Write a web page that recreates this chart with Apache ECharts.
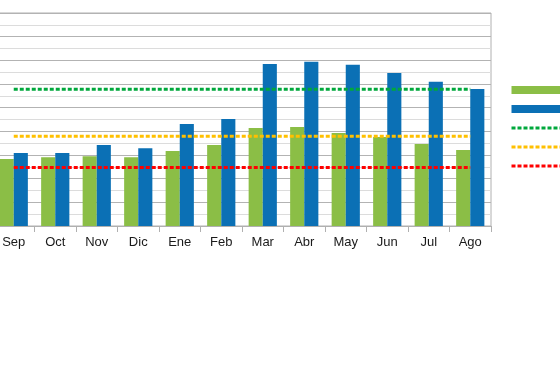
<!DOCTYPE html>
<html><head><meta charset="utf-8">
<script src="https://cdn.jsdelivr.net/npm/echarts@6/dist/echarts.min.js"></script>
<style>html,body{margin:0;padding:0;background:#fff;overflow:hidden}#c{width:567px;height:369px;margin-left:-7px}</style>
</head><body><div id="c"></div>
<script>
const categories = ['Sep','Oct','Nov','Dic','Ene','Feb','Mar','Abr','May','Jun','Jul','Ago'];
const seriesA = [2.83,2.91,2.95,2.91,3.17,3.42,4.14,4.18,3.93,3.76,3.46,3.21];
const seriesB = [3.08,3.08,3.42,3.29,4.31,4.52,6.85,6.94,6.81,6.47,6.09,5.79];
const refGreen = 5.78;
const refYellow = 3.79;
const refRed = 2.47;
const names = ['Serie A','Serie B','Referencia 1','Referencia 2','Referencia 3'];

const chart = echarts.init(document.getElementById('c'), null, {renderer:'canvas'});
const flat = v => categories.map(() => v);
const dash = [4,2];
const dotted = (name, v, color) => ({
  name, type:'line', data: flat(v), symbol:'none', z:5,
  lineStyle:{color, width:3, type:dash}, itemStyle:{color}
});
const lineLegend = name => ({name, itemStyle:{opacity:0}, lineStyle:{width:3, type:dash}});
chart.setOption({
  animation:false,
  grid:{left:0, right:69, top:13, bottom:143, show:true, borderColor:'#b0b0b0', borderWidth:1},
  xAxis:{type:'category', data:categories, boundaryGap:true,
    axisLine:{lineStyle:{color:'#b0b0b0'}},
    axisTick:{show:true, length:6, lineStyle:{color:'#b0b0b0'}},
    axisLabel:{color:'#1a1a1a', fontSize:13, fontFamily:'Liberation Sans', margin:10}},
  yAxis:{type:'value', min:0, max:9, interval:1,
    axisLabel:{show:false}, axisLine:{show:false}, axisTick:{show:false},
    splitLine:{lineStyle:{color:'#b3b3b3', width:1}},
    minorTick:{show:false, splitNumber:2},
    minorSplitLine:{show:true, lineStyle:{color:'#dcdcdc', width:1}}},
  legend:{orient:'vertical', left:512, top:81, itemGap:11, itemWidth:70, itemHeight:8,
    textStyle:{fontSize:8, lineHeight:8, color:'#1a1a1a'},
    data:[
      {name:names[0], icon:'rect'},
      {name:names[1], icon:'rect'},
      lineLegend(names[2]), lineLegend(names[3]), lineLegend(names[4])]},
  series:[
    {name:names[0], type:'bar', data:seriesA, itemStyle:{color:'#8bbe46'}, barGap:'0%', barCategoryGap:'32%'},
    {name:names[1], type:'bar', data:seriesB, itemStyle:{color:'#0b70b5'}, barGap:'0%', barCategoryGap:'32%'},
    dotted(names[2], refGreen, '#00a83c'),
    dotted(names[3], refYellow, '#ffc000'),
    dotted(names[4], refRed, '#ff0000')
  ]
});
</script></body></html>
